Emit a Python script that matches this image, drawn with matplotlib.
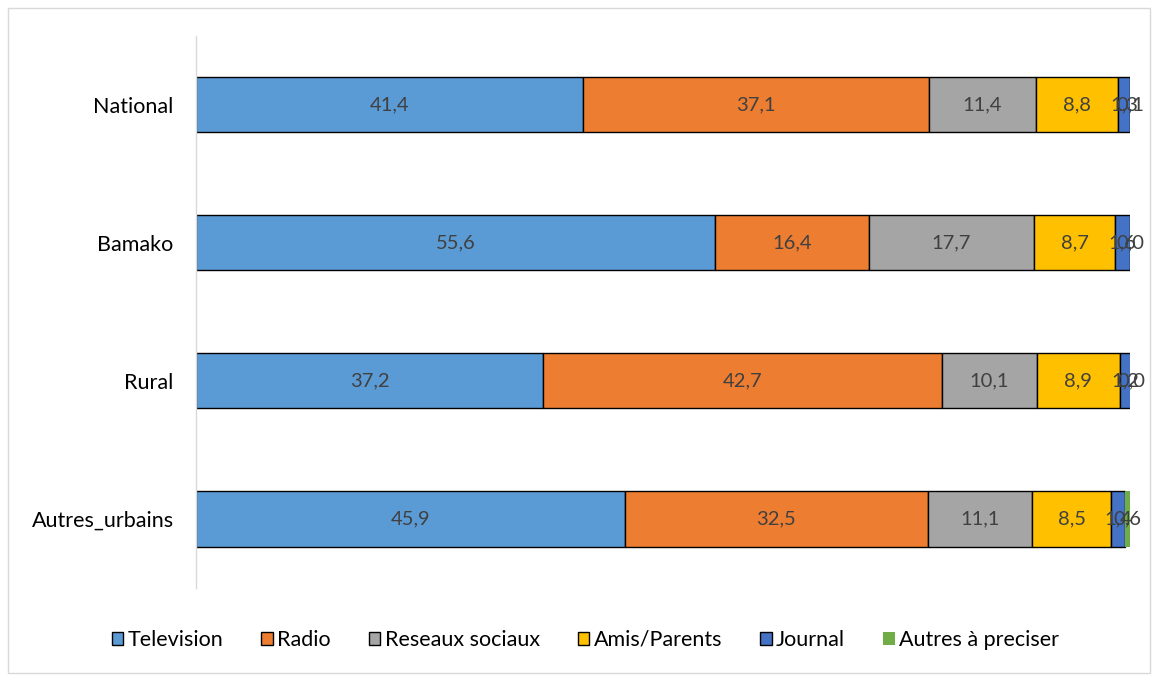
import matplotlib
matplotlib.use("Agg")
import matplotlib.pyplot as plt
from matplotlib.patches import Rectangle
import numpy as np

plt.rcParams['font.family'] = ['Lato', 'DejaVu Sans']

categories = ["National", "Bamako", "Rural", "Autres_urbains"]
series_names = ["Television", "Radio", "Reseaux sociaux", "Amis/Parents", "Journal", "Autres à preciser"]
television = [41.4, 55.6, 37.2, 45.9]
radio = [37.1, 16.4, 42.7, 32.5]
reseaux = [11.4, 17.7, 10.1, 11.1]
amis = [8.8, 8.7, 8.9, 8.5]
journal = [1.3, 1.6, 1.2, 1.4]
autres = [0.1, 0.0, 0.0, 0.6]
series = [television, radio, reseaux, amis, journal, autres]
colors = ["#5B9BD5", "#ED7D31", "#A5A5A5", "#FFC000", "#4472C4", "#70AD47"]
edges = ["black", "black", "black", "black", "black", "none"]

fig = plt.figure(figsize=(11.52, 6.75), dpi=100)
ax = fig.add_axes([0.170, 0.129, 0.811, 0.818])

y = np.arange(len(categories))
left = np.zeros(len(categories))
handles = []
for name, vals, c, ec in zip(series_names, series, colors, edges):
    vals = np.array(vals)
    b = ax.barh(y, vals, left=left, height=0.4, color=c, edgecolor=ec,
                linewidth=1.0 if ec != "none" else 0, label=name)
    handles.append(b)
    for yi, l, v in zip(y, left, vals):
        ax.text(l + v / 2, yi, f"{v:.1f}".replace(".", ","), ha="center", va="center",
                fontsize=14.5, color="#404040")
    left = left + vals

ax.set_xlim(0, 100)
ax.set_ylim(3.5, -0.5)
ax.set_yticks(y)
ax.set_yticklabels(categories, fontsize=15.5)
ax.tick_params(axis="y", length=0, pad=16)
ax.set_xticks([])
for s in ["top", "right", "bottom"]:
    ax.spines[s].set_visible(False)
ax.spines["left"].set_color("#D9D9D9")
ax.spines["left"].set_linewidth(1.0)

leg = fig.legend(handles=handles, labels=series_names, loc="center",
                 bbox_to_anchor=(0.508, 1 - 640 / 675), ncol=6, frameon=False,
                 fontsize=15.5, handlelength=0.55, handleheight=0.55,
                 handletextpad=0.2, columnspacing=1.75)

fig.patches.append(Rectangle((8 / 1152, 2 / 675), 1 - 10 / 1152, 1 - 10 / 675,
                             transform=fig.transFigure, fill=False,
                             edgecolor="#D9D9D9", linewidth=1.0))

fig.savefig("out.png", dpi=100)
